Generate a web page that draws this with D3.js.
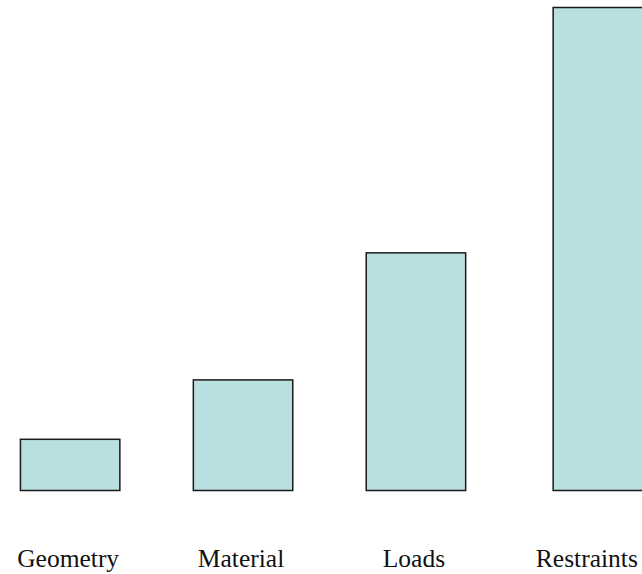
<!DOCTYPE html>
<html>
<head>
<meta charset="utf-8">
<script src="https://cdn.jsdelivr.net/npm/d3@7"></script>
<style>
  body { margin: 0; background: #fff; }
</style>
</head>
<body>
<div id="chart"></div>
<script>
// Datos del grafico
var categories = ["Geometry", "Material", "Loads", "Restraints"];
var values = [10.6, 22.9, 49.2, 100];

var width = 642;
var height = 574;

var svg = d3.select("#chart")
            .append("svg")
            .attr("width", width)
            .attr("height", height);

// Escala horizontal (categorias)
var xScale = d3.scaleBand()
               .domain(categories)
               .range([-16.3, 675.3])
               .paddingInner(0.425)
               .paddingOuter(0.2125);

// Escala vertical
var yScale = d3.scaleLinear()
               .domain([0, 100])
               .range([490.5, 7.5]);

var data = categories.map(function(c, i) { return { cat: c, value: values[i] }; });

// Barras (la ultima esta algo desplazada en el original)
svg.selectAll(".bar")
   .data(data)
   .enter().append("rect")
   .attr("class", "bar")
   .attr("x", function(d, i) { return xScale(d.cat) + (i === categories.length - 1 ? 14 : 0); })
   .attr("y", function(d) { return yScale(d.value); })
   .attr("width", xScale.bandwidth())
   .attr("height", function(d) { return yScale(0) - yScale(d.value); })
   .attr("fill", "#b9dfe1")
   .attr("stroke", "#1a1a1a")
   .attr("stroke-width", 1.5);

// Etiquetas de categorias
svg.selectAll(".label")
   .data(categories)
   .enter().append("text")
   .attr("class", "label")
   .attr("x", function(d) { return xScale(d) + xScale.bandwidth() / 2 - 2; })
   .attr("y", 567)
   .attr("text-anchor", "middle")
   .style("font-family", "'Liberation Serif', 'Times New Roman', serif")
   .style("font-size", "25.5px")
   .style("fill", "#111")
   .text(function(d) { return d; });
</script>
</body>
</html>
